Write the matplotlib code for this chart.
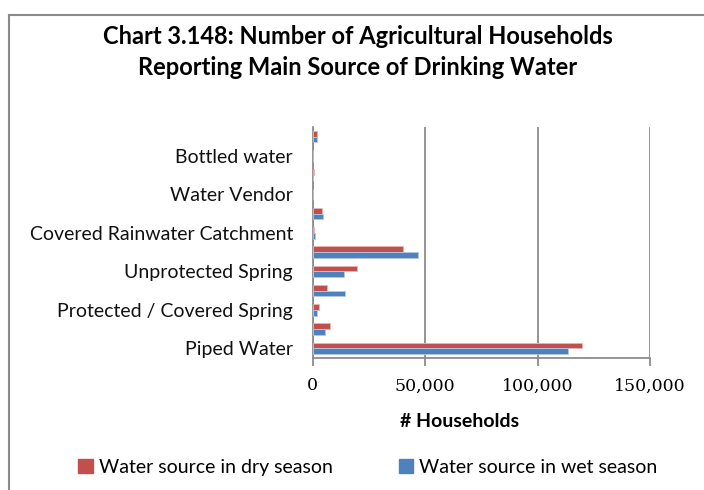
import matplotlib
matplotlib.use("Agg")
import matplotlib.pyplot as plt
import numpy as np
from matplotlib.lines import Line2D
from matplotlib.patches import Patch

# categories bottom -> top (every other label is hidden in the original chart)
categories = ["Piped Water", "", "Protected / Covered Spring", "", "Unprotected Spring", "",
              "Covered Rainwater Catchment", "", "Water Vendor", "", "Bottled water", ""]
dry_season = [119700, 7700, 2950, 6400, 19600, 40300, 700, 4150, 0, 700, 0, 1800]
wet_season = [113400, 5350, 1900, 14550, 13950, 47100, 1300, 4700, 0, 0, 0, 1900]
x_ticks = [0, 50000, 100000, 150000]

red = '#C0504D'
blue = '#4F81BD'
grid_col = '#8C8C8C'
label_font = 'Lato'

fig = plt.figure(figsize=(7.04, 4.90), dpi=100)
ax = fig.add_axes([312.5 / 704, 1 - 358 / 490, (650 - 312.5) / 704, (358 - 127) / 490])

y = np.arange(len(categories))
h = 0.3
ax.barh(y + h / 2, dry_season, height=h, color=red, edgecolor='#E8B4B3', linewidth=0.6, zorder=3)
ax.barh(y - h / 2, wet_season, height=h, color=blue, edgecolor='#B4C8E4', linewidth=0.6, zorder=3)

ax.set_xlim(0, 150000)
ax.set_ylim(-0.5, len(categories) - 0.5)
ax.set_xticks(x_ticks)
ax.set_xticklabels(['{:,}'.format(v) for v in x_ticks], family='DejaVu Serif', fontsize=12.5)
ax.set_yticks(y)
ax.set_yticklabels(categories, family=label_font, fontsize=14, color='#111111')
ax.tick_params(axis='y', length=0, pad=14)
ax.tick_params(axis='x', length=6, width=1.3, color=grid_col, pad=8)
ax.xaxis.grid(True, color=grid_col, linewidth=1.3, zorder=0)
ax.set_axisbelow(True)
for s in ['top', 'right']:
    ax.spines[s].set_visible(False)
for s in ['left', 'bottom']:
    ax.spines[s].set_color(grid_col)
    ax.spines[s].set_linewidth(1.3)

fig.text(460 / 704, 1 - 421 / 490, '# Households', ha='center', va='center',
         family=label_font, fontweight='bold', fontsize=14)

fig.text(358 / 704, 1 - 52 / 490,
         'Chart 3.148: Number of Agricultural Households\nReporting Main Source of Drinking Water',
         ha='center', va='center', family=label_font, fontweight='bold', fontsize=17,
         linespacing=1.4)

handles = [Patch(color=red), Patch(color=blue)]
fig.legend(handles, ['Water source in dry season', 'Water source in wet season'],
           loc='center', bbox_to_anchor=(368 / 704, 1 - 467 / 490), ncol=2, frameon=False,
           prop={'family': label_font, 'size': 14}, handlelength=0.75, handleheight=0.75,
           handletextpad=0.3, columnspacing=3.4)

# outer chart border (top and left only visible)
fig.add_artist(Line2D([9 / 704, 1], [1 - 15 / 490, 1 - 15 / 490], color='#8A8A8A', linewidth=1.5))
fig.add_artist(Line2D([9 / 704, 9 / 704], [0, 1 - 15 / 490], color='#8A8A8A', linewidth=1.5))

fig.savefig('out.png', dpi=100)
